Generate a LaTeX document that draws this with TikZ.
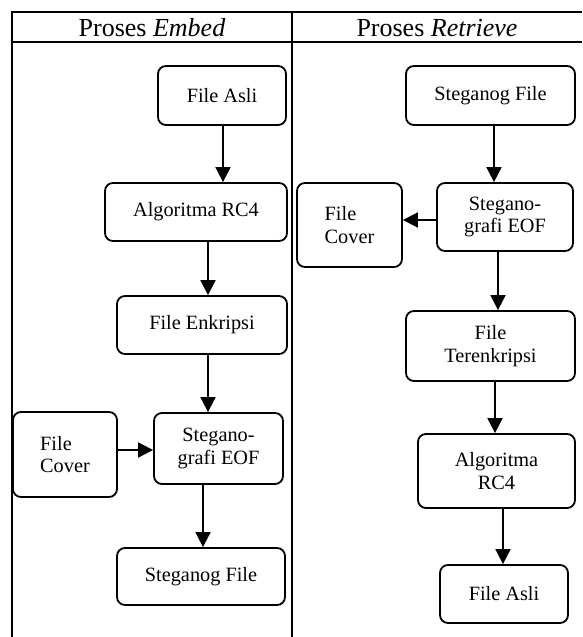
\documentclass[tikz,border=0pt]{standalone}
\usepackage{fontspec}
\setmainfont{Liberation Serif}
\usetikzlibrary{arrows.meta}
\begin{document}
\begin{tikzpicture}[x=1pt,y=-1pt,
  box/.style={draw, line width=1.8pt, rounded corners=8pt, align=center,
    font=\fontsize{20.3}{22.5}\selectfont, inner sep=0pt},
  flow/.style={line width=1.8pt, -{Triangle[width=15pt,length=15pt]}},
  rule/.style={line width=1.8pt},
  head/.style={font=\fontsize{26}{30}\selectfont, inner sep=0pt}]
\useasboundingbox (0,0) rectangle (582,637);
% table
\coordinate (tl) at (12,12);
\coordinate (tr) at (582,12);
\coordinate (hl) at (12,42);
\coordinate (hr) at (582,42);
\coordinate (bl) at (12,637);
\coordinate (mt) at (292,12);
\coordinate (mb) at (292,637);
\draw[rule] (tr) -- (tl) -- (bl);
\draw[rule] (hl) -- (hr);
\draw[rule] (mt) -- (mb);
\node[head] (h1) at (152,28) {Proses \textit{Embed}};
\node[head] (h2) at (437,28) {Proses \textit{Retrieve}};
% left column
\node[box, minimum width=128pt, minimum height=59pt] (fa1) at (222,95.5) {File Asli};
\node[box, minimum width=182pt, minimum height=58pt] (rc1) at (196,212) {Algoritma RC4};
\node[box, minimum width=170pt, minimum height=58pt] (enk) at (202,325) {File Enkripsi};
\node[box, minimum width=129pt, minimum height=71pt] (st1) at (218.5,448.5) {Stegano-\\grafi EOF};
\node[box, minimum width=104pt, minimum height=85pt, align=left] (cv1) at (65,454.5) {File\\Cover};
\node[box, minimum width=168pt, minimum height=57pt] (sf1) at (201,576.5) {Steganog File};
\draw[flow] (223,0 |- fa1.south) -- (223,0 |- rc1.north);
\draw[flow] (208,0 |- rc1.south) -- (208,0 |- enk.north);
\draw[flow] (208,0 |- enk.south) -- (208,0 |- st1.north);
\draw[flow] (cv1.east |- 0,450) -- (st1.west |- 0,450);
\draw[flow] (203,0 |- st1.south) -- (203,0 |- sf1.north);
% right column
\node[box, minimum width=169pt, minimum height=59pt] (sf2) at (490.5,95.5) {Steganog File};
\node[box, minimum width=136pt, minimum height=68pt] (st2) at (505,217) {Stegano-\\grafi EOF};
\node[box, minimum width=105pt, minimum height=84pt, align=left] (cv2) at (349.5,225) {File\\Cover};
\node[box, minimum width=169pt, minimum height=70pt] (ter) at (490.5,346) {File\\Terenkripsi};
\node[box, minimum width=157pt, minimum height=74pt] (rc2) at (496.5,471) {Algoritma\\RC4};
\node[box, minimum width=128pt, minimum height=58pt] (fa2) at (504,594) {File Asli};
\draw[flow] (494,0 |- sf2.south) -- (494,0 |- st2.north);
\draw[flow] (st2.west |- 0,220) -- (cv2.east |- 0,220);
\draw[flow] (498,0 |- st2.south) -- (498,0 |- ter.north);
\draw[flow] (495,0 |- ter.south) -- (495,0 |- rc2.north);
\draw[flow] (503,0 |- rc2.south) -- (503,0 |- fa2.north);
\end{tikzpicture}
\end{document}
